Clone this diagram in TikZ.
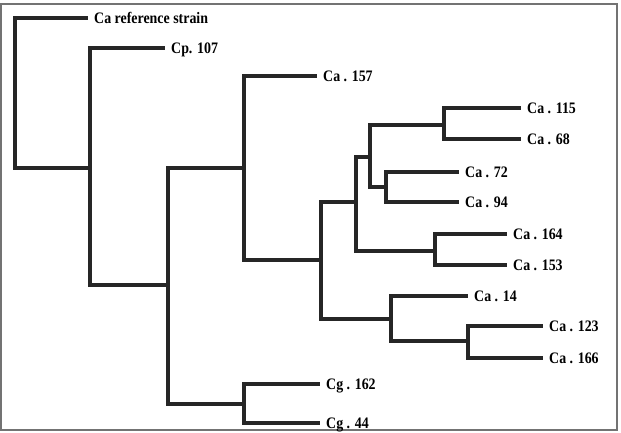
\documentclass[tikz,border=0pt]{standalone}
\usepackage{fontspec}
\setmainfont{Liberation Serif}[FakeStretch=0.87]
\usepackage{tikz}
\usetikzlibrary{positioning}

\begin{document}
\begin{tikzpicture}[
    x=1pt, y=-1pt,
    branch/.style={draw=black!85, line width=3.2pt},
    leaf/.style={anchor=west, inner xsep=6pt, inner ysep=0pt, text height=11pt, text depth=0pt, font=\bfseries\fontsize{16}{18}\selectfont},
    frame/.style={draw=black!55, line width=1.4pt}
]
\useasboundingbox (0,0) rectangle (621,432);
\draw[frame] (1,4) rectangle (617,430);

\coordinate (root) at (15,93);
\coordinate (n1) at (90,168);
\coordinate (n2) at (168,285);
\coordinate (n3) at (244,168);
\coordinate (nCg) at (244,404);
\coordinate (n4) at (321,260);
\coordinate (n5) at (356,202);
\coordinate (n6) at (370,157);
\coordinate (n7) at (444,125);
\coordinate (n8) at (386,187);
\coordinate (n9) at (435,251);
\coordinate (n10) at (391,319);
\coordinate (n11) at (468,341);

\node[leaf] (CaRef) at (88,18) {Ca reference strain};
\node[leaf] (Cp107) at (165,48) {Cp. 107};
\node[leaf] (Ca157) at (317,76) {Ca . 157};
\node[leaf] (Ca115) at (521,108) {Ca . 115};
\node[leaf] (Ca68) at (521,139) {Ca . 68};
\node[leaf] (Ca72) at (459,172) {Ca . 72};
\node[leaf] (Ca94) at (459,202) {Ca . 94};
\node[leaf] (Ca164) at (507,234) {Ca . 164};
\node[leaf] (Ca153) at (507,265) {Ca . 153};
\node[leaf] (Ca14) at (468,296) {Ca . 14};
\node[leaf] (Ca123) at (543,326) {Ca . 123};
\node[leaf] (Ca166) at (543,358) {Ca . 166};
\node[leaf] (Cg162) at (320,384) {Cg . 162};
\node[leaf] (Cg44) at (320,423) {Cg . 44};

\draw[branch] (root) |- (CaRef.west);
\draw[branch] (root) |- (n1);
\draw[branch] (n1) |- (Cp107.west);
\draw[branch] (n1) |- (n2);
\draw[branch] (n2) |- (n3);
\draw[branch] (n2) |- (nCg);
\draw[branch] (n3) |- (Ca157.west);
\draw[branch] (n3) |- (n4);
\draw[branch] (n4) |- (n5);
\draw[branch] (n4) |- (n10);
\draw[branch] (n5) |- (n6);
\draw[branch] (n5) |- (n9);
\draw[branch] (n6) |- (n7);
\draw[branch] (n6) |- (n8);
\draw[branch] (n7) |- (Ca115.west);
\draw[branch] (n7) |- (Ca68.west);
\draw[branch] (n8) |- (Ca72.west);
\draw[branch] (n8) |- (Ca94.west);
\draw[branch] (n9) |- (Ca164.west);
\draw[branch] (n9) |- (Ca153.west);
\draw[branch] (n10) |- (Ca14.west);
\draw[branch] (n10) |- (n11);
\draw[branch] (n11) |- (Ca123.west);
\draw[branch] (n11) |- (Ca166.west);
\draw[branch] (nCg) |- (Cg162.west);
\draw[branch] (nCg) |- (Cg44.west);
\end{tikzpicture}
\end{document}
